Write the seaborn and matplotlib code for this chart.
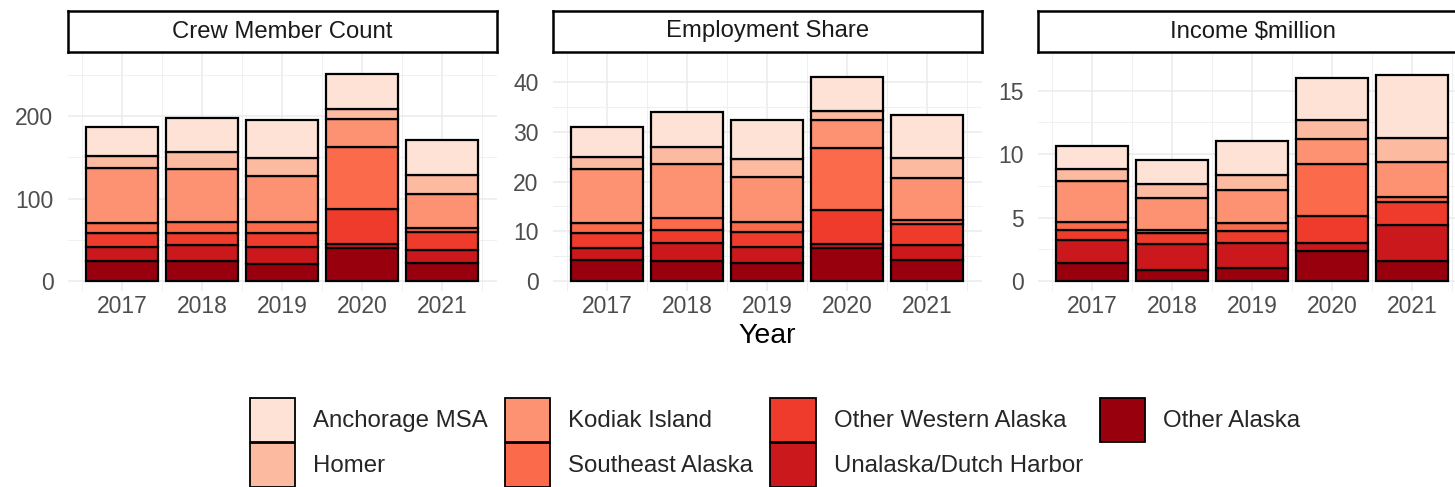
import numpy as np
import pandas as pd
import matplotlib
matplotlib.use("Agg")
import matplotlib.pyplot as plt
from matplotlib.patches import Patch
import seaborn as sns

# ---------------- data ----------------
years = [2017, 2018, 2019, 2020, 2021]
regions = ["Anchorage MSA", "Homer", "Kodiak Island", "Southeast Alaska",
           "Other Western Alaska", "Unalaska/Dutch Harbor", "Other Alaska"]
region_colors = ["#FEE2D5", "#FCBBA1", "#FC9272", "#FB6A4A", "#EF3B2C", "#CB181D", "#99000D"]
panels = ["Crew Member Count", "Employment Share", "Income $million"]

crew_anchorage = [35, 41, 46, 42, 43]
crew_homer = [15, 20, 22, 13, 22]
crew_kodiak = [67, 64, 56, 33, 42]
crew_southeast = [12, 14, 13, 76, 5]
crew_other_western = [17, 14, 17, 42, 22]
crew_unalaska = [17, 20, 20, 5, 15]
crew_other_alaska = [24, 24, 21, 40, 22]

emp_anchorage = [6.0, 7.2, 7.8, 6.8, 8.5]
emp_homer = [2.3, 3.4, 3.6, 2.0, 4.0]
emp_kodiak = [10.9, 10.8, 9.1, 5.5, 8.5]
emp_southeast = [2.0, 2.4, 2.0, 12.5, 0.8]
emp_other_western = [3.0, 2.6, 3.0, 6.8, 4.2]
emp_unalaska = [2.5, 3.6, 3.1, 0.8, 3.0]
emp_other_alaska = [4.2, 4.1, 3.7, 6.7, 4.3]

inc_anchorage = [1.8, 1.9, 2.7, 3.3, 4.9]
inc_homer = [1.0, 1.1, 1.2, 1.5, 1.9]
inc_kodiak = [3.2, 2.5, 2.6, 2.0, 2.8]
inc_southeast = [0.66, 0.26, 0.6, 4.1, 0.4]
inc_other_western = [0.8, 0.8, 0.95, 2.1, 1.8]
inc_unalaska = [1.8, 2.1, 2.0, 0.6, 2.8]
inc_other_alaska = [1.4, 0.85, 1.0, 2.4, 1.6]

panel_series = {
    "Crew Member Count": [crew_anchorage, crew_homer, crew_kodiak, crew_southeast,
                          crew_other_western, crew_unalaska, crew_other_alaska],
    "Employment Share": [emp_anchorage, emp_homer, emp_kodiak, emp_southeast,
                         emp_other_western, emp_unalaska, emp_other_alaska],
    "Income $million": [inc_anchorage, inc_homer, inc_kodiak, inc_southeast,
                        inc_other_western, inc_unalaska, inc_other_alaska],
}

rows = []
for p in panels:
    for r, vals in zip(regions, panel_series[p]):
        for y, v in zip(years, vals):
            rows.append({"Panel": p, "Region": r, "Year": y, "Value": v})
df = pd.DataFrame(rows)

# ---------------- style ----------------
sns.set_theme(style="white")
plt.rcParams["font.family"] = ["Liberation Sans", "DejaVu Sans"]

W, H = 1455, 487
fig = plt.figure(figsize=(W / 100, H / 100), dpi=100)
palette = dict(zip(regions, region_colors))

def fx(px):
    return px / W

def fy(py):
    return 1 - py / H

panel_left = [68, 553, 1038]
panel_w = 429
p_top, p_bot = 53, 291
zero_px = 281
px_per_unit = [0.825, 4.97, 12.69]
y_major = [[0, 100, 200], [0, 10, 20, 30, 40], [0, 5, 10, 15]]
y_minor = [[50, 150, 250], [5, 15, 25, 35], [2.5, 7.5, 12.5]]

for i, p in enumerate(panels):
    ax = fig.add_axes([fx(panel_left[i]), fy(p_bot), fx(panel_w), (p_bot - p_top) / H])
    sub = df[df["Panel"] == p]
    sns.histplot(data=sub, x="Year", weights="Value", hue="Region", hue_order=regions,
                 multiple="stack", discrete=True, shrink=0.9, palette=palette,
                 edgecolor="black", linewidth=1.6, alpha=1, legend=False, ax=ax)
    s = px_per_unit[i]
    ax.set_ylim(-(p_bot - zero_px) / s, (zero_px - p_top) / s)
    x0 = 2017 - 54 / 80
    ax.set_xlim(x0, x0 + panel_w / 80)
    ax.set_xticks(years)
    ax.set_xticks([2016.5, 2017.5, 2018.5, 2019.5, 2020.5, 2021.5], minor=True)
    ax.set_yticks(y_major[i])
    ax.set_yticks(y_minor[i], minor=True)
    ax.set_yticklabels([str(v) for v in y_major[i]])
    ax.set_xticklabels([str(v) for v in years])
    ax.grid(which="major", color="#EBEBEB", linewidth=1.1)
    ax.grid(which="minor", color="#F0F0F0", linewidth=0.7)
    ax.set_axisbelow(True)
    for sp in ax.spines.values():
        sp.set_visible(False)
    ax.tick_params(axis="both", which="both", length=0)
    ax.tick_params(axis="x", labelsize=16.5, labelcolor="#4D4D4D", pad=3)
    ax.tick_params(axis="y", labelsize=16.5, labelcolor="#4D4D4D", pad=10.5)
    ax.set_xlabel("")
    ax.set_ylabel("")
    ax.set_facecolor("white")

    # facet strip
    sax = fig.add_axes([fx(panel_left[i]), fy(52), fx(panel_w), 41 / H])
    sax.set_xticks([])
    sax.set_yticks([])
    sax.set_facecolor("white")
    for sp in sax.spines.values():
        sp.set_visible(True)
        sp.set_color("black")
        sp.set_linewidth(1.8)
    sax.text(0.5, 0.5, p, ha="center", va="center", fontsize=17.2,
             color="#1A1A1A", transform=sax.transAxes)

fig.text(fx(767), fy(336), "Year", ha="center", va="center", fontsize=20.5, color="black")

handles = [Patch(facecolor=palette[r], edgecolor="black", linewidth=1.3) for r in regions]
fig.legend(handles, regions, ncol=4, loc="upper left",
           bbox_to_anchor=(fx(250), fy(398)), frameon=False, borderpad=0,
           borderaxespad=0, fontsize=17.3, handlelength=45 / 24, handleheight=2.44,
           handletextpad=0.75, columnspacing=0.72, labelspacing=0.04)

fig.savefig("out.png", dpi=100)
